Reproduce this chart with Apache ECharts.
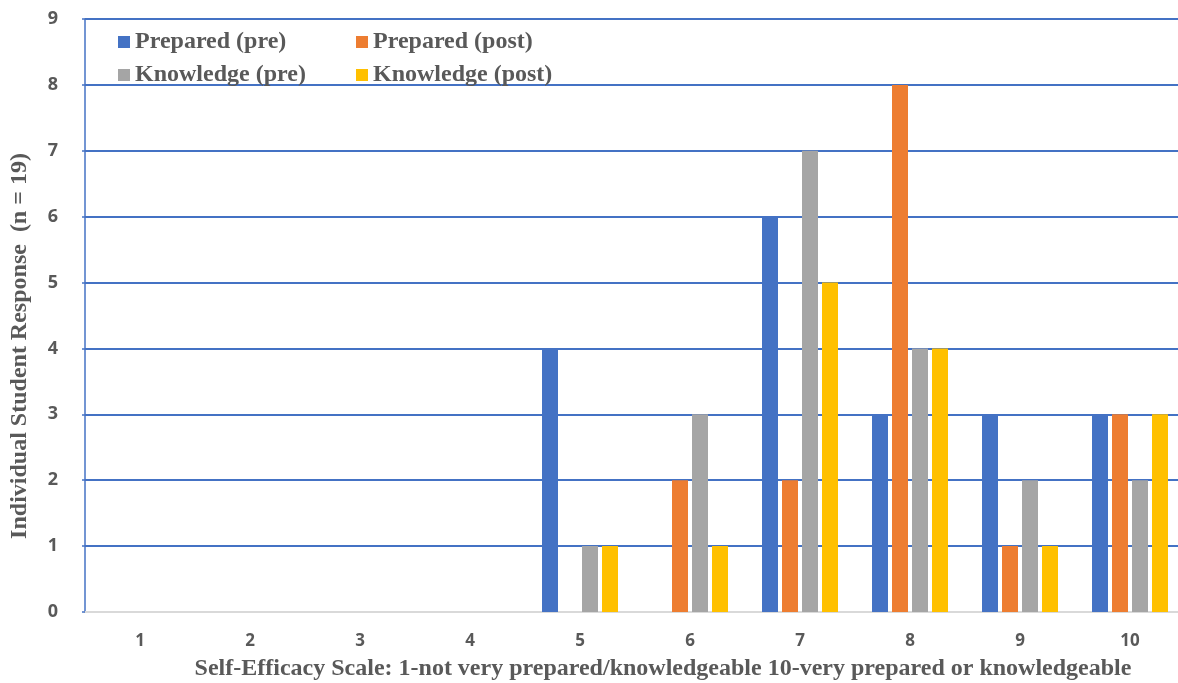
<!DOCTYPE html>
<html>
<head>
<meta charset="utf-8">
<script src="https://cdn.jsdelivr.net/npm/echarts@6/dist/echarts.min.js"></script>
<style>
  html, body { margin: 0; padding: 0; background: #ffffff; }
  #chart { width: 1178px; height: 683px; }
</style>
</head>
<body>
<div id="chart"></div>
<script>
// Self-efficacy scale points (1 = not very prepared, 10 = very prepared)
const categories = ['1', '2', '3', '4', '5', '6', '7', '8', '9', '10'];
const yTicks = [0, 1, 2, 3, 4, 5, 6, 7, 8, 9];

// Number of students choosing each scale point
const preparedPre    = [0, 0, 0, 0, 4, 0, 6, 3, 3, 3];
const preparedPost   = [0, 0, 0, 0, 0, 2, 2, 8, 1, 3];
const knowledgePre   = [0, 0, 0, 0, 1, 3, 7, 4, 2, 2];
const knowledgePost  = [0, 0, 0, 0, 1, 1, 5, 4, 1, 3];

const seriesNames = ['Prepared (pre)', 'Prepared (post)', 'Knowledge (pre)', 'Knowledge (post)'];
const seriesColors = ['#4472C4', '#ED7D31', '#A5A5A5', '#FFC000'];
const seriesData = [preparedPre, preparedPost, knowledgePre, knowledgePost];

const serif = '"Liberation Serif", "Times New Roman", serif';
const sans = '"Open Sans", "Noto Sans", sans-serif';

const chart = echarts.init(document.getElementById('chart'), null, { renderer: 'canvas' });

const legendText = { fontFamily: serif, fontWeight: 'bold', fontSize: 24, color: '#595959', lineHeight: 24 };

chart.setOption({
  animation: false,
  backgroundColor: '#ffffff',
  grid: { left: 85, top: 19, width: 1100, bottom: 71, containLabel: false, outerBoundsMode: 'none' },
  legend: [
    {
      data: [seriesNames[0], seriesNames[2]],
      orient: 'vertical', left: 118, top: 30, itemGap: 9, padding: 0,
      itemWidth: 12, itemHeight: 12, icon: 'rect',
      textStyle: legendText
    },
    {
      data: [seriesNames[1], seriesNames[3]],
      orient: 'vertical', left: 356, top: 30, itemGap: 9, padding: 0,
      itemWidth: 12, itemHeight: 12, icon: 'rect',
      textStyle: legendText
    }
  ],
  xAxis: {
    type: 'category',
    data: categories,
    axisLine: { show: true, lineStyle: { color: '#D9D9D9', width: 2 } },
    axisTick: { show: false },
    axisLabel: { fontFamily: sans, fontWeight: 'bold', fontSize: 17, color: '#595959', margin: 21 },
    splitLine: { show: false }
  },
  yAxis: {
    type: 'value',
    min: yTicks[0],
    max: yTicks[yTicks.length - 1],
    interval: 1,
    axisLine: { show: true, lineStyle: { color: '#4472C4', width: 1.5 } },
    axisTick: { show: true, length: 3, lineStyle: { color: '#4472C4', width: 1.5 } },
    axisLabel: { fontFamily: sans, fontWeight: 'bold', fontSize: 18, color: '#595959', margin: 27 },
    splitLine: { show: true, lineStyle: { color: '#4472C4', width: 1.8 } }
  },
  series: seriesNames.map((name, i) => ({
    name: name,
    type: 'bar',
    data: seriesData[i],
    barWidth: 16,
    barGap: '25%',
    barCategoryGap: '31%',
    itemStyle: { color: seriesColors[i] },
    z: 3
  })),
  graphic: [
    {
      type: 'text',
      x: 663, y: 669,
      style: {
        text: 'Self-Efficacy Scale: 1-not very prepared/knowledgeable 10-very prepared or knowledgeable',
        x: 0, y: 0, align: 'center', verticalAlign: 'middle',
        font: 'bold 24px ' + serif, fill: '#595959'
      }
    },
    {
      type: 'text',
      x: 20, y: 346, rotation: Math.PI / 2,
      style: {
        text: 'Individual Student Response  (n = 19)',
        x: 0, y: 0, align: 'center', verticalAlign: 'middle',
        font: 'bold 24px ' + serif, fill: '#595959'
      }
    }
  ]
});
</script>
</body>
</html>
